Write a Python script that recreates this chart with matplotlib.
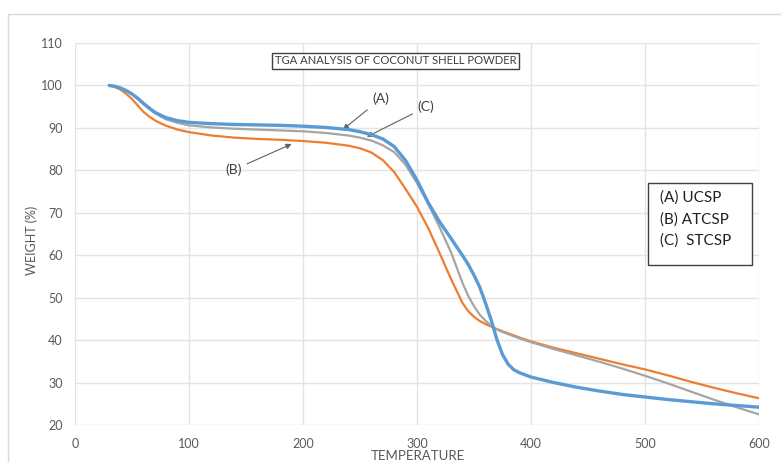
import matplotlib.pyplot as plt
import matplotlib.patches as mpatches

# ── Data ──────────────────────────────────────────────────────────────────
temps = [30, 35, 40, 45, 50, 55, 60, 65, 70, 75, 80, 90, 100, 120, 140, 160,
         180, 200, 220, 240, 250, 260, 270, 280, 290, 300, 310, 320, 330, 340,
         345, 350, 355, 360, 365, 370, 375, 380, 385, 390, 400, 420, 440, 460,
         480, 500, 520, 540, 560, 580, 600]

ucsp = [100, 99.8, 99.4, 98.8, 98.0, 97.0, 95.8, 94.7, 93.7, 93.0, 92.4, 91.7,
        91.3, 91.0, 90.8, 90.7, 90.6, 90.4, 90.1, 89.6, 89.1, 88.4, 87.4, 85.6,
        82.3, 77.7, 72.3, 67.8, 63.9, 59.9, 57.8, 55.3, 52.5, 48.8, 44.8, 40.2,
        36.6, 34.3, 33.0, 32.3, 31.3, 30.0, 28.9, 28.0, 27.2, 26.6, 26.0, 25.5,
        25.0, 24.6, 24.2]

atcsp = [100, 99.6, 99.0, 98.0, 96.8, 95.3, 93.8, 92.7, 91.8, 91.1, 90.5, 89.6,
         89.0, 88.2, 87.7, 87.4, 87.2, 86.9, 86.5, 85.8, 85.2, 84.2, 82.4, 79.6,
         75.6, 71.4, 66.3, 60.4, 54.3, 48.7, 46.8, 45.5, 44.5, 43.8, 43.2, 42.6,
         42.1, 41.6, 41.1, 40.6, 39.7, 38.2, 36.9, 35.6, 34.3, 33.1, 31.7, 30.2,
         28.8, 27.5, 26.3]

stcsp = [100, 99.7, 99.3, 98.7, 97.9, 96.8, 95.6, 94.5, 93.5, 92.7, 92.0, 91.2,
         90.6, 90.1, 89.8, 89.6, 89.4, 89.2, 88.8, 88.2, 87.7, 87.0, 85.9, 84.3,
         81.3, 77.0, 72.0, 66.5, 60.6, 53.4, 50.4, 48.0, 46.0, 44.6, 43.4, 42.5,
         41.9, 41.4, 40.9, 40.4, 39.5, 37.9, 36.4, 34.9, 33.3, 31.6, 29.8, 27.9,
         26.0, 24.2, 22.5]

xticks = [0, 100, 200, 300, 400, 500, 600]
yticks = [20, 30, 40, 50, 60, 70, 80, 90, 100, 110]
legend_lines = ["(A) UCSP", "(B) ATCSP", "(C)  STCSP"]

# ── Figure ────────────────────────────────────────────────────────────────
plt.rcParams["font.family"] = ["Lato", "DejaVu Sans"]
W, H = 781, 462
fig = plt.figure(figsize=(W / 100, H / 100), dpi=100)
ax = fig.add_axes([75 / W, 1 - 425 / H, (759 - 75) / W, (425 - 43) / H])

# outer chart border (cropped at right/bottom)
fig.patches.append(mpatches.Rectangle((8 / W, -0.1), 1.2, 1 - 14 / H + 0.1,
                                      transform=fig.transFigure, fill=False,
                                      edgecolor="#d9d9d9", lw=1))

line_kw = dict(solid_joinstyle="round", solid_capstyle="round")
ax.plot(temps, atcsp, color="#ED7D31", lw=1.6, zorder=3, **line_kw)
ax.plot(temps, stcsp, color="#A5A5A5", lw=1.6, zorder=3, **line_kw)
ax.plot(temps, ucsp, color="#5B9BD5", lw=2.4, zorder=4, **line_kw)

ax.set_xlim(0, 600)
ax.set_ylim(20, 110)
ax.set_xticks(xticks)
ax.set_yticks(yticks)
ax.grid(True, color="#e3e3e3", lw=1)
ax.set_axisbelow(True)
for s in ax.spines.values():
    s.set_visible(False)
ax.tick_params(length=0, labelsize=9, colors="#595959", pad=9)

fig.text(32 / W, 1 - 240 / H, "WEIGHT (%)", rotation=90, ha="center",
         va="center", fontsize=9, color="#595959")
fig.text(418 / W, 1 - 450 / H, "TEMPERATURE", ha="center", va="top",
         fontsize=9.5, color="#595959")

# title box
ax.text(281, 105.8, "TGA ANALYSIS OF COCONUT SHELL POWDER", ha="center",
        va="center", fontsize=8.1, color="#404040",
        bbox=dict(boxstyle="square,pad=0.25", fc="white", ec="#404040", lw=1))

# curve annotations
arrow = dict(arrowstyle="-|>", color="#606060", lw=0.8, mutation_scale=8,
             shrinkA=2, shrinkB=0)
ax.annotate("(A)", xy=(235, 89.6), xytext=(268, 96.8), fontsize=10,
            color="#404040", ha="center", va="center", arrowprops=arrow)
ax.annotate("(C)", xy=(256, 87.9), xytext=(308, 94.9), fontsize=10,
            color="#404040", ha="center", va="center", arrowprops=arrow)
ax.annotate("(B)", xy=(190, 86.2), xytext=(139, 80.1), fontsize=10,
            color="#404040", ha="center", va="center", arrowprops=arrow)

# legend box
fig.patches.append(mpatches.Rectangle((648 / W, 1 - 265 / H), 104 / W, 82 / H,
                                      transform=fig.transFigure, fc="white",
                                      ec="#404040", lw=1, zorder=5))
for i, line in enumerate(legend_lines):
    fig.text(660 / W, 1 - (198 + 21.5 * i) / H, line, ha="left", va="center",
             fontsize=11, color="#202020", zorder=6)

fig.savefig("out.png", dpi=100)
